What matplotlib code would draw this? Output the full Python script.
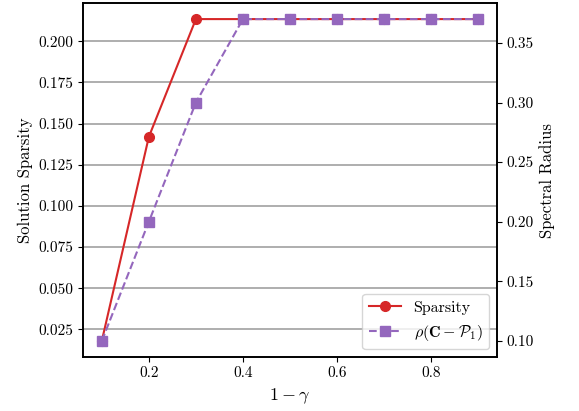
import numpy as np
import matplotlib
matplotlib.use('Agg')
import matplotlib.pyplot as plt

plt.rcParams['font.family'] = 'serif'
plt.rcParams['font.serif'] = ['cmr10']
plt.rcParams['mathtext.fontset'] = 'cm'
plt.rcParams['axes.formatter.use_mathtext'] = True
plt.rcParams['axes.unicode_minus'] = False
plt.rcParams['axes.linewidth'] = 1.2

# data
one_minus_gamma = [0.1, 0.2, 0.3, 0.4, 0.5, 0.6, 0.7, 0.8, 0.9]
sparsity = [0.018, 0.142, 0.2135, 0.2135, 0.2135, 0.2135, 0.2135, 0.2135, 0.2135]
spectral_radius = [0.10, 0.20, 0.30, 0.37, 0.37, 0.37, 0.37, 0.37, 0.37]

fig = plt.figure(figsize=(5.79, 4.11), dpi=100)
ax = fig.add_axes([83 / 579, 54 / 411, 414 / 579, 354 / 411])
ax2 = ax.twinx()

l1, = ax.plot(one_minus_gamma, sparsity, color='#d62728', marker='o',
              markersize=7, linewidth=1.5, label='Sparsity')
l2, = ax2.plot(one_minus_gamma, spectral_radius, color='#9467bd', marker='s',
               markersize=7, linewidth=1.5, linestyle='--',
               label=r'$\rho(\mathbf{C} - \mathcal{P}_\mathbf{1})$')

ax.set_yticks([0.025, 0.05, 0.075, 0.1, 0.125, 0.15, 0.175, 0.2])
ax.yaxis.set_major_formatter(matplotlib.ticker.FormatStrFormatter('%.3f'))
ax.set_xticks([0.2, 0.4, 0.6, 0.8])
ax.xaxis.set_major_formatter(matplotlib.ticker.FormatStrFormatter('%.1f'))
ax2.set_yticks([0.10, 0.15, 0.20, 0.25, 0.30, 0.35])
ax2.yaxis.set_major_formatter(matplotlib.ticker.FormatStrFormatter('%.2f'))

ax.grid(axis='y', color='#999999', linewidth=1.1)
ax.set_axisbelow(True)

ax.tick_params(labelsize=11)
ax2.tick_params(labelsize=11)
ax.set_xlabel(r'$1 - \gamma$', fontsize=13)
ax.set_ylabel('Solution Sparsity', fontsize=12)
ax2.set_ylabel('Spectral Radius', fontsize=12)

ax2.legend([l1, l2], [l1.get_label(), l2.get_label()], loc='lower right', fontsize=11.5)

fig.savefig('out.png', dpi=100)
